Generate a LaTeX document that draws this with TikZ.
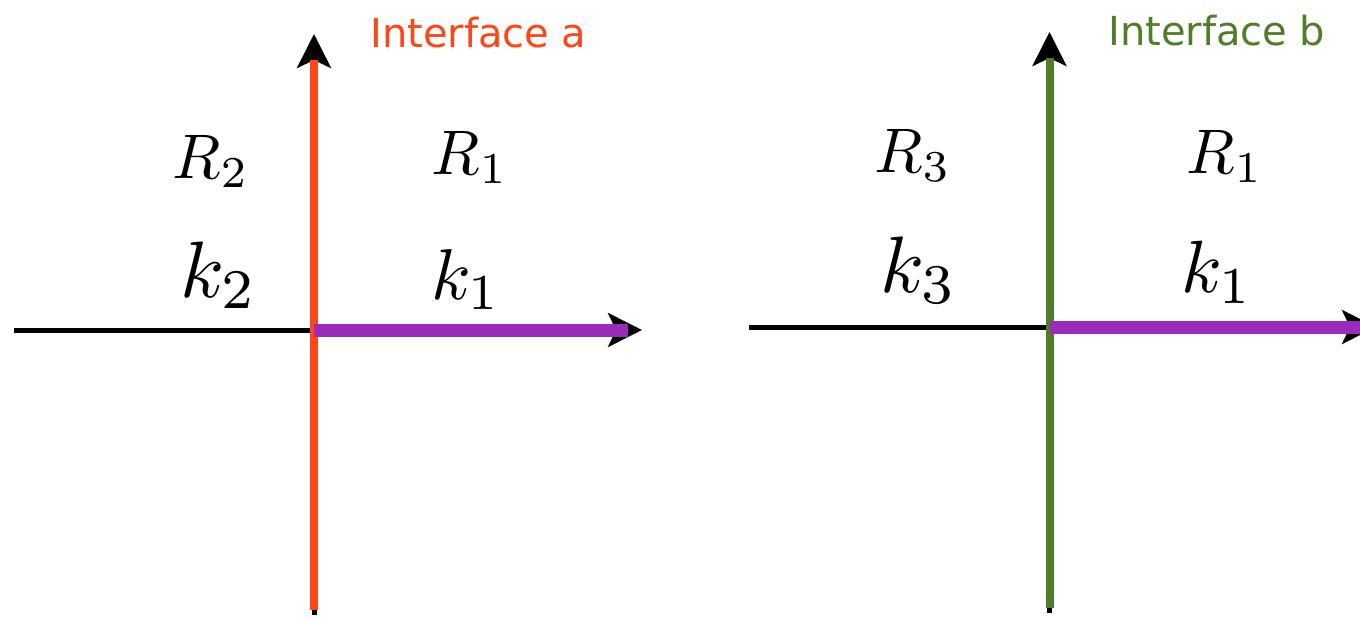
\documentclass[tikz,border=0pt]{standalone}
\usepackage{fontspec}
\usepackage{graphicx}
\newfontfamily\labfont{DejaVu Sans}
\usetikzlibrary{arrows.meta}
\definecolor{ifa}{RGB}{255,70,22}
\definecolor{ifb}{RGB}{80,125,42}
\definecolor{kvec}{RGB}{155,43,187}
\newcommand{\mlb}[2]{\scalebox{#1}{$#2$}}
\tikzset{
  axis/.style={black, line width=5pt, -{Stealth[length=34pt,width=34pt,inset=8pt]}},
  overlay line/.style={line width=#1, line cap=butt},
  mlab/.style={anchor=base, inner sep=0pt},
  iflab/.style={anchor=base west, inner sep=0pt, font=\labfont\fontsize{40}{40}\selectfont}
}
\begin{document}
\begin{tikzpicture}[x=1pt,y=-1pt]
\useasboundingbox (0,0) rectangle (1360,618);
% left diagram
\coordinate (aO) at (314,330);
\coordinate (aB) at (314,615);
\coordinate (aT) at (314,34);
\coordinate (aL) at (14,330);
\coordinate (aR) at (642,330);
\coordinate (aTo) at (314,60);
\coordinate (aBo) at (314,610);
\coordinate (aRp) at (628,330);
\draw[axis] (aB) -- (aT);
\draw[axis] (aL) -- (aR);
\draw[ifa, overlay line=8pt] (aBo) -- (aTo);
\draw[kvec, overlay line=13pt] (aO) -- (aRp);
\node[iflab, text=ifa] (ifa) at (370,48) {Interface a};
\node[mlab] (R2) at (211,178) {\mlb{6.3}{R_2}};
\node[mlab] (R1a) at (470,174) {\mlb{6.3}{R_1}};
\node[mlab] (k2) at (219,297) {\mlb{8}{k_2}};
\node[mlab] (k1a) at (466,299) {\mlb{7.2}{k_1}};
% right diagram
\coordinate (bO) at (1049.5,327);
\coordinate (bB) at (1049.5,613);
\coordinate (bT) at (1049.5,32);
\coordinate (bL) at (749,327);
\coordinate (bR) at (1376,327);
\coordinate (bTo) at (1049.5,58);
\coordinate (bBo) at (1049.5,608);
\coordinate (bRp) at (1362,327);
\draw[axis] (bB) -- (bT);
\draw[axis] (bL) -- (bR);
\draw[ifb, overlay line=8pt] (bBo) -- (bTo);
\draw[kvec, overlay line=13pt] (bO) -- (bRp);
\node[iflab, text=ifb] (ifb) at (1108,46) {Interface b};
\node[mlab] (R3) at (913,172) {\mlb{6.3}{R_3}};
\node[mlab] (R1b) at (1225,173) {\mlb{6.3}{R_1}};
\node[mlab] (k3) at (919,292) {\mlb{8}{k_3}};
\node[mlab] (k1b) at (1217,292) {\mlb{7.4}{k_1}};
\end{tikzpicture}
\end{document}
